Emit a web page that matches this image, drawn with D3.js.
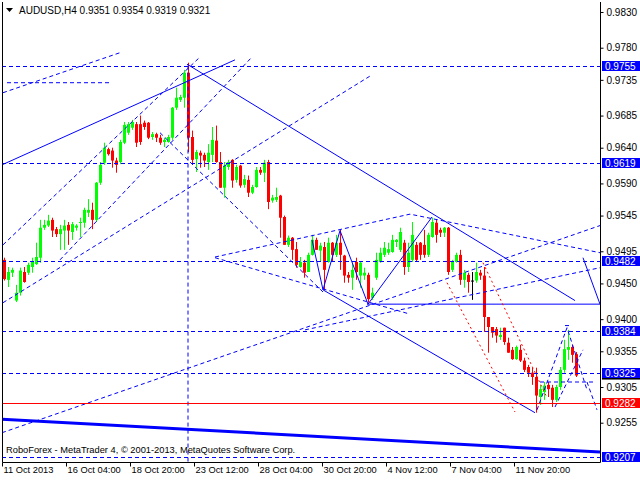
<!DOCTYPE html>
<html><head><meta charset="utf-8">
<script src="https://cdn.jsdelivr.net/npm/d3@7"></script>
<style>body{margin:0;background:#fff}svg{display:block}</style>
</head><body><svg id="c" width="640" height="480"></svg>
<script>
// ---- data (pips -> price) ----
const opens = [9483,9455,9465,9426,9437,9466,9465,9473,9477,9486,9528,9531,9539,9526,9519,9524,9532,9522,9528,9535,9535,9549,9553,9539,9591,9619,9638,9636,9622,9620,9647,9661,9668,9673,9673,9675,9675,9655,9659,9654,9648,9648,9654,9696,9707,9710,9745,9655,9624,9633,9630,9620,9630,9650,9620,9584,9613,9623,9595,9615,9588,9595,9577,9585,9609,9605,9620,9566,9567,9573,9543,9504,9514,9498,9473,9479,9466,9490,9511,9496,9501,9480,9507,9490,9507,9489,9462,9458,9480,9461,9461,9462,9430,9458,9480,9490,9493,9494,9508,9497,9507,9473,9483,9504,9507,9504,9490,9515,9535,9525,9521,9528,9469,9480,9490,9455,9462,9454,9454,9465,9461,9403,9389,9386,9375,9388,9367,9357,9344,9357,9342,9333,9325,9319,9291,9298,9308,9304,9287,9305,9329,9357,9361,9351];
const highs = [9486,9473,9472,9448,9472,9473,9479,9486,9507,9539,9539,9546,9542,9529,9532,9539,9536,9536,9533,9542,9556,9568,9563,9592,9620,9647,9640,9640,9626,9651,9676,9676,9679,9676,9685,9678,9676,9662,9661,9658,9654,9658,9697,9724,9714,9749,9759,9664,9637,9636,9633,9645,9669,9671,9634,9620,9623,9624,9616,9616,9602,9601,9588,9613,9613,9623,9623,9574,9584,9574,9545,9517,9515,9508,9487,9483,9493,9518,9514,9507,9508,9514,9508,9518,9525,9490,9466,9479,9486,9480,9472,9465,9444,9493,9500,9508,9507,9518,9512,9528,9511,9507,9536,9508,9508,9525,9521,9542,9539,9528,9529,9529,9483,9493,9497,9469,9465,9466,9479,9469,9473,9403,9389,9389,9388,9388,9374,9361,9363,9364,9346,9336,9332,9332,9308,9312,9312,9308,9308,9333,9371,9385,9364,9354];
const lows = [9454,9445,9459,9424,9433,9451,9462,9465,9476,9479,9525,9529,9515,9515,9497,9497,9504,9511,9524,9515,9528,9543,9526,9536,9588,9616,9629,9612,9605,9617,9645,9658,9665,9641,9644,9665,9652,9651,9648,9644,9641,9647,9651,9693,9704,9696,9634,9616,9606,9612,9613,9609,9620,9619,9584,9570,9609,9584,9591,9584,9584,9571,9575,9584,9602,9592,9554,9563,9564,9514,9504,9501,9483,9472,9472,9458,9466,9489,9497,9480,9441,9479,9480,9487,9469,9451,9451,9441,9455,9444,9455,9423,9427,9455,9479,9487,9490,9493,9501,9494,9462,9466,9480,9480,9483,9486,9487,9514,9507,9515,9515,9462,9466,9479,9448,9444,9437,9427,9451,9455,9382,9353,9374,9367,9371,9364,9353,9343,9343,9340,9326,9319,9308,9269,9280,9287,9291,9277,9284,9301,9325,9343,9339,9319];
const closes = [9456,9466,9469,9437,9468,9452,9476,9480,9487,9528,9532,9538,9524,9519,9526,9531,9524,9533,9531,9536,9553,9553,9539,9591,9616,9640,9631,9622,9616,9648,9672,9673,9676,9647,9648,9669,9654,9659,9654,9647,9651,9655,9696,9710,9711,9745,9654,9623,9634,9629,9622,9633,9651,9620,9584,9615,9620,9594,9613,9587,9596,9577,9585,9609,9605,9619,9564,9570,9571,9542,9504,9514,9497,9476,9480,9465,9490,9511,9497,9503,9469,9507,9490,9507,9490,9461,9458,9469,9466,9479,9465,9428,9437,9483,9493,9500,9498,9511,9511,9522,9473,9493,9518,9483,9490,9490,9518,9536,9518,9521,9528,9466,9480,9490,9455,9465,9452,9454,9466,9461,9403,9389,9381,9377,9378,9368,9353,9344,9361,9342,9329,9325,9319,9293,9302,9307,9302,9287,9305,9329,9358,9361,9350,9321];

const priceTicks = [0.9830,0.9780,0.9735,0.9685,0.9640,0.9590,0.9545,0.9495,0.9450,0.9400,0.9355,0.9305,0.9255];
const timeLabels = ["11 Oct 2013","16 Oct 04:00","18 Oct 20:00","23 Oct 12:00","28 Oct 04:00","30 Oct 20:00","4 Nov 12:00","7 Nov 04:00","11 Nov 20:00"];
const timeIndex = [0,16,32,48,64,80,96,112,128];

const blueLevels = [0.9755,0.9619,0.9482,0.9384,0.9325,0.9207];
const redLevel = 0.9282;
const lastClose = 0.9321;

// trend lines as [barIndex, price] pairs
const solidLines = [
  [[-0.5,0.9616],[57.75,0.9763]],
  [[45.75,0.9757],[142.75,0.9426]],
  [[79.75,0.9441],[132.75,0.9269]],
  [[90.75,0.9421],[149,0.9421]],
  [[77,0.9511],[79.75,0.9441],[84,0.9524],[91,0.9421],[107,0.9543]],
  [[144.75,0.9486],[149,0.9421]]
];
const thickLines = [ [[-0.5,0.9260],[149,0.9214]] ];
const dashedLines = [
  [[-0.25,0.9717],[29.5,0.9774]],
  [[0.75,0.9731],[27,0.9731]],
  [[-0.25,0.9423],[92,0.9742]],
  [[-0.25,0.9504],[49,0.9767]],
  [[14,0.9483],[62,0.9767]],
  [[-0.5,0.9241],[149,0.9531]],
  [[75.25,0.9385],[149,0.9472]],
  [[46,0.9755],[46,0.9200]],
  [[39,0.9661],[79.75,0.9438]],
  [[52.75,0.9487],[101.5,0.9547],[149,0.9493]],
  [[52.75,0.9486],[101.5,0.9407]],
  [[133.25,0.9273],[140.75,0.9388],[145.75,0.9301]],
  [[137.75,0.9277],[144.75,0.9357]],
  [[134,0.9312],[147.25,0.9312]],
  [[145.75,0.9312],[148.25,0.9273]],
  [[140.25,0.9391],[141.5,0.9391]]
];
const redDotLines = [
  [[110.75,0.9451],[127.75,0.9270]],
  [[119.75,0.9479],[135.75,0.9290]]
];

const P = v => v/10000;
const bars = opens.map((o,i)=>({i, o:P(o), h:P(highs[i]), l:P(lows[i]), c:P(closes[i])}));

const svg = d3.select("#c");
const L = 2, R = 600, T = 2, B = 462;
const xs = d3.scaleLinear().domain([0,143]).range([4,576]);
const ys = d3.scaleLinear().domain([0.9200,0.9844]).range([B,T]);
const FONT = "'Liberation Sans', Arial, sans-serif";

svg.append("rect").attr("width",640).attr("height",480).attr("fill","#fff");
svg.append("defs").append("clipPath").attr("id","pc").append("rect")
  .attr("x",L).attr("y",T).attr("width",R-L).attr("height",B-T);

const plot = svg.append("g").attr("clip-path","url(#pc)");

// candles
const col = d => d.c>d.o ? "#00ff00" : (d.c<d.o ? "#ff0000" : "#000");
const cg = plot.append("g");
cg.selectAll("line").data(bars).join("line")
  .attr("x1",d=>Math.round(xs(d.i))+0.5).attr("x2",d=>Math.round(xs(d.i))+0.5)
  .attr("y1",d=>ys(d.h)).attr("y2",d=>ys(d.l))
  .attr("stroke",col).attr("stroke-width",1);
cg.selectAll("rect").data(bars).join("rect")
  .attr("x",d=>Math.round(xs(d.i))-1).attr("width",3)
  .attr("y",d=>ys(Math.max(d.o,d.c)))
  .attr("height",d=>Math.max(1,Math.abs(ys(d.o)-ys(d.c))))
  .attr("fill",col);

const line = d3.line().x(d=>xs(d[0])).y(d=>ys(d[1]));
const lg = plot.append("g").attr("fill","none");
lg.selectAll(".th").data(thickLines).join("path").attr("d",line)
  .attr("stroke","#0000ff").attr("stroke-width",3);
lg.selectAll(".so").data(solidLines).join("path").attr("d",line)
  .attr("stroke","#0000ff").attr("stroke-width",1);
lg.selectAll(".da").data(dashedLines).join("path").attr("d",line)
  .attr("stroke","#0000ff").attr("stroke-width",1).attr("stroke-dasharray","4,3");
lg.selectAll(".rd").data(redDotLines).join("path").attr("d",line)
  .attr("stroke","#ff0000").attr("stroke-width",1).attr("stroke-dasharray","2,3");

// horizontal levels
lg.selectAll(".lv").data(blueLevels).join("line")
  .attr("x1",L).attr("x2",R).attr("y1",d=>Math.round(ys(d))+0.5).attr("y2",d=>Math.round(ys(d))+0.5)
  .attr("stroke","#0000ff").attr("stroke-dasharray","4,3");
lg.append("line").attr("x1",L).attr("x2",R)
  .attr("y1",Math.round(ys(redLevel))+0.5).attr("y2",Math.round(ys(redLevel))+0.5)
  .attr("stroke","#ff0000");

// frame
svg.append("path").attr("d",`M${L+0.5},${T}V${B+0.5}H${R+0.5}V${T}`)
  .attr("fill","none").attr("stroke","#000");

// price axis
const ya = svg.append("g").attr("transform",`translate(${R+0.5},0)`)
  .call(d3.axisRight(ys).tickValues(priceTicks).tickSize(3).tickPadding(3).tickFormat(d3.format(".4f")));
ya.select(".domain").remove();
ya.selectAll("text").attr("font-family",FONT).attr("font-size",10).attr("fill","#000");

// time axis
const xa = svg.append("g").attr("transform",`translate(0,${B+0.5})`)
  .call(d3.axisBottom(xs).tickValues(timeIndex).tickSize(4).tickFormat((d,i)=>timeLabels[i]));
xa.select(".domain").remove();
xa.selectAll(".tick").attr("transform",d=>`translate(${Math.round(xs(d))-1.5},0)`);
xa.selectAll("text").attr("font-family",FONT).attr("font-size",9.3).attr("fill","#000")
  .attr("text-anchor","start").attr("x",1).attr("y",4).attr("dy","0.71em");

// level labels
const lab = svg.append("g");
lab.append("rect").attr("x",602).attr("y",ys(lastClose)-4).attr("width",38).attr("height",8).attr("fill","#000");
const lv = lab.selectAll(".lb").data(blueLevels).join("g")
  .attr("transform",d=>`translate(602,${Math.round(ys(d))})`);
lv.append("rect").attr("x",0).attr("y",-5).attr("width",38).attr("height",10).attr("fill","#0000ff");
lv.append("text").attr("x",3).attr("y",3.8).text(d=>d.toFixed(4))
  .attr("font-family",FONT).attr("font-size",10).attr("fill","#fff");
const rl = lab.append("g").attr("transform",`translate(602,${Math.round(ys(redLevel))})`);
rl.append("rect").attr("x",0).attr("y",-5).attr("width",38).attr("height",10).attr("fill","#ff0000");
rl.append("text").attr("x",3).attr("y",3.8).text(redLevel.toFixed(4))
  .attr("font-family",FONT).attr("font-size",10).attr("fill","#fff");

// title
svg.append("path").attr("d","M6,8H13L9.5,12Z").attr("fill","#000");
svg.append("text").attr("x",19).attr("y",14).attr("font-family",FONT).attr("font-size",10)
  .text(`AUDUSD,H4  ${P(opens[143]).toFixed(4)} ${P(highs[143]).toFixed(4)} ${P(lows[143]).toFixed(4)} ${P(closes[143]).toFixed(4)}`);
// copyright
svg.append("text").attr("x",6).attr("y",453).attr("font-family",FONT).attr("font-size",9.3)
  .text("RoboForex - MetaTrader 4, © 2001-2013, MetaQuotes Software Corp.");
</script></body></html>
